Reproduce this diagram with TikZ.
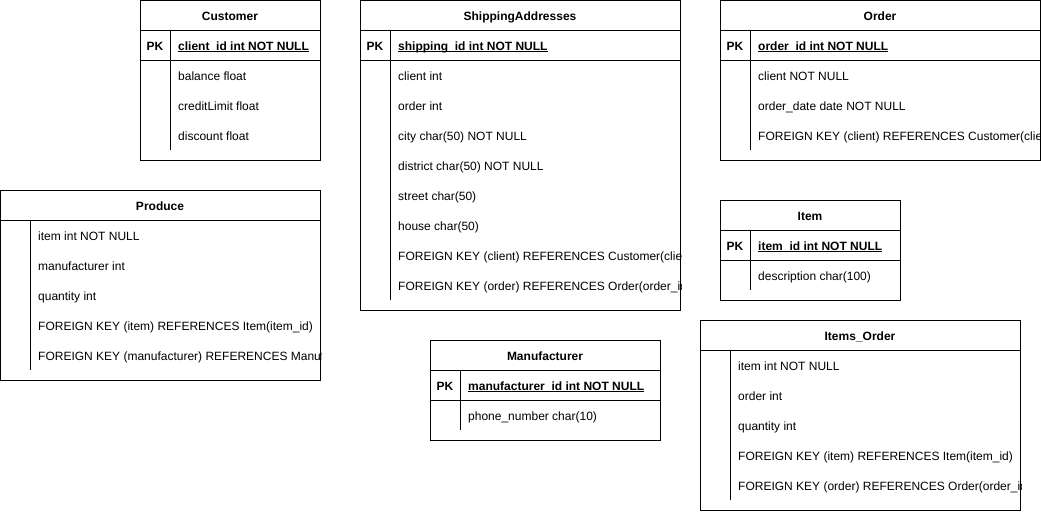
\documentclass[tikz,border=0pt]{standalone}
\usepackage{fontspec}
\setmainfont{Liberation Sans}
\begin{document}
\begin{tikzpicture}[x=1pt,y=-1pt,
  line/.style={draw=black,line width=1pt},
  ttl/.style={font=\fontsize{12}{14}\selectfont\bfseries,inner sep=0pt,anchor=base},
  pkl/.style={font=\fontsize{12}{14}\selectfont\bfseries,inner sep=0pt,anchor=base},
  fld/.style={font=\fontsize{12}{14}\selectfont,inner sep=0pt,anchor=base west},
  pkf/.style={font=\fontsize{12}{14}\selectfont\bfseries,inner sep=0pt,anchor=base west},
  uline/.style={draw=black,line width=0.8pt}
]
\useasboundingbox[fill=white] (0,0) rectangle (1041,512);

% ---------------- Customer ----------------
\begin{scope}
\clip (140,0) rectangle (321,161);
\node[ttl] (custT) at (230,20) {Customer};
\node[pkl] (custPK) at (155,50) {PK};
\node[pkf] (custK) at (178,50) {client\_id int NOT NULL};
\node[fld] (custF1) at (178,80) {balance float};
\node[fld] (custF2) at (178,110) {creditLimit float};
\node[fld] (custF3) at (178,140) {discount float};
\end{scope}
\draw[uline] ([yshift=-1.8pt]custK.base west) -- ([yshift=-1.8pt]custK.base east);
\draw[line] (140.5,0.5) rectangle (320.5,160.5);
\draw[line] (140.5,30.5) -- (320.5,30.5);
\draw[line] (140.5,60.5) -- (320.5,60.5);
\draw[line] (170.5,30.5) -- (170.5,150);

% ---------------- Produce ----------------
\begin{scope}
\clip (0,190) rectangle (321,381);
\node[ttl] (prodT) at (160,210) {Produce};
\node[fld] (prodF1) at (38,240) {item int NOT NULL};
\node[fld] (prodF2) at (38,270) {manufacturer int};
\node[fld] (prodF3) at (38,300) {quantity int};
\node[fld] (prodF4) at (38,330) {FOREIGN KEY (item) REFERENCES Item(item\_id)};
\node[fld] (prodF5) at (38,360) {FOREIGN KEY (manufacturer) REFERENCES Manufacturer(manufacturer\_id)};
\end{scope}
\draw[line] (0.5,190.5) rectangle (320.5,380.5);
\draw[line] (0.5,220.5) -- (320.5,220.5);
\draw[line] (30.5,220.5) -- (30.5,370);

% ---------------- ShippingAddresses ----------------
\begin{scope}
\clip (360,0) rectangle (681,311);
\node[ttl] (shipT) at (520,20) {ShippingAddresses};
\node[pkl] (shipPK) at (375,50) {PK};
\node[pkf] (shipK) at (398,50) {shipping\_id int NOT NULL};
\node[fld] (shipF1) at (398,80) {client int};
\node[fld] (shipF2) at (398,110) {order int};
\node[fld] (shipF3) at (398,140) {city char(50) NOT NULL};
\node[fld] (shipF4) at (398,170) {district char(50) NOT NULL};
\node[fld] (shipF5) at (398,200) {street char(50)};
\node[fld] (shipF6) at (398,230) {house char(50)};
\node[fld] (shipF7) at (398,260) {FOREIGN KEY (client) REFERENCES Customer(client\_id)};
\node[fld] (shipF8) at (398,290) {FOREIGN KEY (order) REFERENCES Order(order\_id)};
\end{scope}
\draw[uline] ([yshift=-1.8pt]shipK.base west) -- ([yshift=-1.8pt]shipK.base east);
\draw[line] (360.5,0.5) rectangle (680.5,310.5);
\draw[line] (360.5,30.5) -- (680.5,30.5);
\draw[line] (360.5,60.5) -- (680.5,60.5);
\draw[line] (390.5,30.5) -- (390.5,300);

% ---------------- Order ----------------
\begin{scope}
\clip (720,0) rectangle (1041,161);
\node[ttl] (ordT) at (880,20) {Order};
\node[pkl] (ordPK) at (735,50) {PK};
\node[pkf] (ordK) at (758,50) {order\_id int NOT NULL};
\node[fld] (ordF1) at (758,80) {client NOT NULL};
\node[fld] (ordF2) at (758,110) {order\_date date NOT NULL};
\node[fld] (ordF3) at (758,140) {FOREIGN KEY (client) REFERENCES Customer(client\_id)};
\end{scope}
\draw[uline] ([yshift=-1.8pt]ordK.base west) -- ([yshift=-1.8pt]ordK.base east);
\draw[line] (720.5,0.5) rectangle (1040.5,160.5);
\draw[line] (720.5,30.5) -- (1040.5,30.5);
\draw[line] (720.5,60.5) -- (1040.5,60.5);
\draw[line] (750.5,30.5) -- (750.5,150);

% ---------------- Item ----------------
\begin{scope}
\clip (720,200) rectangle (901,301);
\node[ttl] (itemT) at (810,220) {Item};
\node[pkl] (itemPK) at (735,250) {PK};
\node[pkf] (itemK) at (758,250) {item\_id int NOT NULL};
\node[fld] (itemF1) at (758,280) {description char(100)};
\end{scope}
\draw[uline] ([yshift=-1.8pt]itemK.base west) -- ([yshift=-1.8pt]itemK.base east);
\draw[line] (720.5,200.5) rectangle (900.5,300.5);
\draw[line] (720.5,230.5) -- (900.5,230.5);
\draw[line] (720.5,260.5) -- (900.5,260.5);
\draw[line] (750.5,230.5) -- (750.5,290);

% ---------------- Items_Order ----------------
\begin{scope}
\clip (700,320) rectangle (1021,511);
\node[ttl] (ioT) at (860,340) {Items\_Order};
\node[fld] (ioF1) at (738,370) {item int NOT NULL};
\node[fld] (ioF2) at (738,400) {order int};
\node[fld] (ioF3) at (738,430) {quantity int};
\node[fld] (ioF4) at (738,460) {FOREIGN KEY (item) REFERENCES Item(item\_id)};
\node[fld] (ioF5) at (738,490) {FOREIGN KEY (order) REFERENCES Order(order\_id)};
\end{scope}
\draw[line] (700.5,320.5) rectangle (1020.5,510.5);
\draw[line] (700.5,350.5) -- (1020.5,350.5);
\draw[line] (730.5,350.5) -- (730.5,500);

% ---------------- Manufacturer ----------------
\begin{scope}
\clip (430,340) rectangle (661,441);
\node[ttl] (manT) at (545,360) {Manufacturer};
\node[pkl] (manPK) at (445,390) {PK};
\node[pkf] (manK) at (468,390) {manufacturer\_id int NOT NULL};
\node[fld] (manF1) at (468,420) {phone\_number char(10)};
\end{scope}
\draw[uline] ([yshift=-1.8pt]manK.base west) -- ([yshift=-1.8pt]manK.base east);
\draw[line] (430.5,340.5) rectangle (660.5,440.5);
\draw[line] (430.5,370.5) -- (660.5,370.5);
\draw[line] (430.5,400.5) -- (660.5,400.5);
\draw[line] (460.5,370.5) -- (460.5,430);
\end{tikzpicture}
\end{document}
